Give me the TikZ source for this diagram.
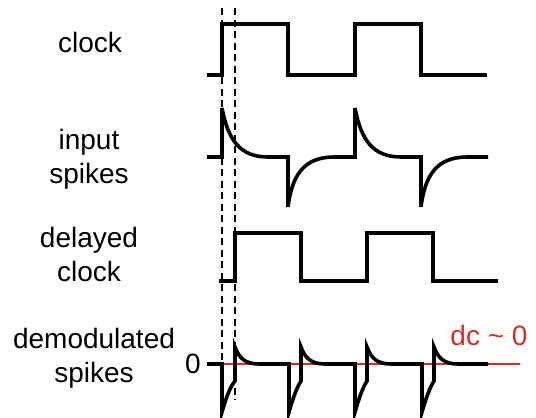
\documentclass[tikz,border=0pt]{standalone}
\usepackage{fontspec}
\setmainfont{Liberation Sans}
\definecolor{dcred}{RGB}{215,45,40}

\begin{document}
\begin{tikzpicture}[x=1pt, y=-1pt,
  wave/.style={line width=3.6pt},
  guide/.style={line width=2.3pt, dash pattern=on 7pt off 4.5pt},
  lbl/.style={font=\fontsize{28}{34}\selectfont, align=center, inner sep=0pt}]
  \useasboundingbox (0,0) rectangle (536,418);
  % labels
  \node[lbl, anchor=base] (clk) at (90,52) {clock};
  \node[lbl] (inp) at (89,159) {input\\spikes};
  \node[lbl] (dclk) at (89,254) {delayed\\clock};
  \node[lbl] (demod) at (94,358) {demodulated\\spikes};
  \node[lbl, anchor=east] (zero) at (201,364) {0};
  \node[lbl, anchor=base, text=dcred] (dc) at (489,345) {dc \textasciitilde{} 0};
  % clock
  \draw[wave] (207,75) -- (222,75) -- (222,24) -- (288,24) -- (288,75) -- (355,75)
    -- (355,24) -- (421,24) -- (421,75) -- (487,75);
  % input spikes
  \draw[wave] (207,157) -- (222,157) -- (222,108) .. controls (228,140) and (240,157) .. (268,157)
    -- (288,157) -- (288,207) .. controls (292,175) and (304,157) .. (334,157)
    -- (355,157) -- (355,108) .. controls (361,140) and (373,157) .. (401,157)
    -- (421,157) -- (421,207) .. controls (425,175) and (437,157) .. (467,157) -- (488,157);
  % delayed clock
  \draw[wave] (219,281) -- (235,281) -- (235,233) -- (301,233) -- (301,281) -- (367,281)
    -- (367,233) -- (433,233) -- (433,281) -- (498,281);
  % demodulated spikes, zero line underneath
  \draw[line width=1.5pt, dcred] (207,364) -- (520,364);
  \draw[wave] (207,364) -- (222,364) -- (222,412) .. controls (226,398) and (230,387) .. (235,381)
    -- (235,347) .. controls (239,358) and (245,364) .. (259,364)
    -- (289,364) -- (289,412) .. controls (293,398) and (297,387) .. (301,381)
    -- (301,347) .. controls (305,358) and (311,364) .. (325,364)
    -- (355,364) -- (355,412) .. controls (359,398) and (363,387) .. (367,381)
    -- (367,347) .. controls (371,358) and (377,364) .. (391,364)
    -- (422,364) -- (422,412) .. controls (426,398) and (430,387) .. (434,381)
    -- (434,347) .. controls (438,358) and (444,364) .. (458,364) -- (488,364);
  % delay markers
  \draw[guide] (222,8) -- (222,400);
  \draw[guide] (235,8) -- (235,400);
\end{tikzpicture}
\end{document}
